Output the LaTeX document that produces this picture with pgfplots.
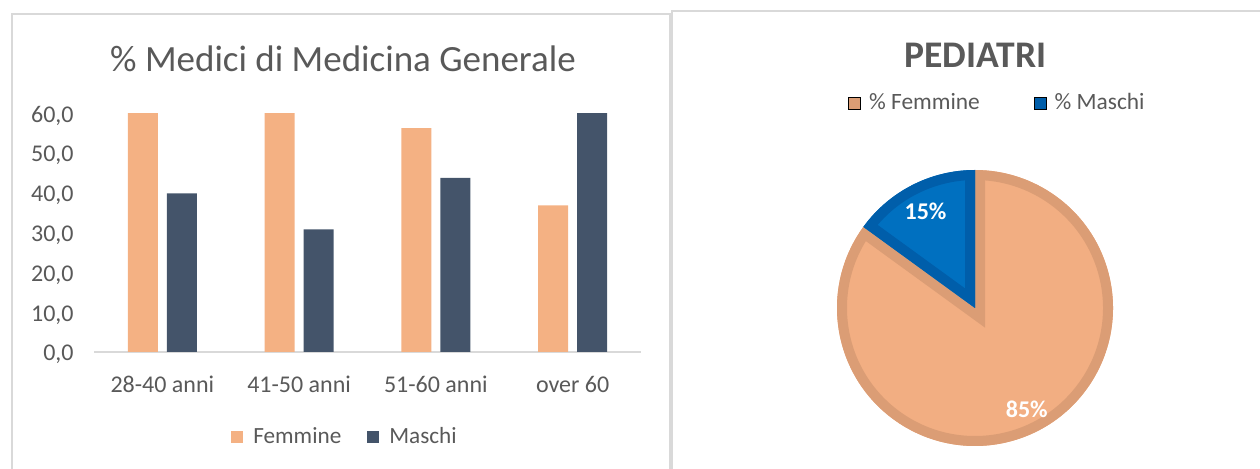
\documentclass[border=0pt]{standalone}
\usepackage{pgfplots}
\pgfplotsset{compat=1.18}
\usepackage{pgfplotstable}
\usetikzlibrary{calc}
\usepackage{fontspec}
\setmainfont{Carlito}

\definecolor{fem}{HTML}{F4B183}
\definecolor{mas}{HTML}{44546A}
\definecolor{pieF}{HTML}{F2AE82}
\definecolor{pieFd}{HTML}{DB9D75}
\definecolor{pieM}{HTML}{0070C0}
\definecolor{pieMd}{HTML}{005EAA}
\definecolor{txt}{HTML}{595959}
\definecolor{lgray}{HTML}{D9D9D9}

\pgfplotsset{sqlegend/.style={legend image code/.code={\fill[##1] (0pt,-3pt) rectangle (6pt,3pt);}}}

% medici di medicina generale, % per fascia d'eta
\pgfplotstableread{
x eta femmine maschi
0 28-40 60.0 39.8
1 41-50 60.0 30.8
2 51-60 56.2 43.7
3 over60 36.8 60.0
}\mmg

% pediatri
\pgfplotstableread{
genere valore
F 85
M 15
}\ped

\begin{document}
\begin{tikzpicture}
\useasboundingbox (0,0) rectangle (630pt,-234.5pt);
% cornici dei due riquadri
\draw[lgray, line width=1pt] (6pt,-250pt) -- (6pt,-7pt) -- (335pt,-7pt) -- (335pt,-250pt);
\draw[lgray, line width=1pt] (336pt,-250pt) -- (336pt,-5.5pt) -- (650pt,-5.5pt);

\node[anchor=base, text=txt, font=\fontsize{18.5}{22}\selectfont] at (171.5pt,-35.8pt) {\% Medici di Medicina Generale};

\begin{axis}[
    at={(47pt,-176pt)}, anchor=south west,
    scale only axis, width=273.5pt, height=119.5pt,
    ybar=4.5pt, bar width=15pt,
    xmin=-0.5, xmax=3.5, ymin=0, ymax=60,
    axis x line*=bottom, axis y line*=left,
    x axis line style={-, draw=lgray, line width=1pt},
    y axis line style={draw=none},
    major tick length=0pt,
    xtick={0,1,2,3},
    xticklabels={28-40 anni, 41-50 anni, 51-60 anni, over 60},
    ytick={0,10,20,30,40,50,60},
    yticklabel={\pgfmathprintnumber[fixed, fixed zerofill, precision=1, use comma]{\tick}},
    /pgf/number format/assume math mode=true,
    tick label style={text=txt, font=\fontsize{12}{14}\selectfont},
    xticklabel style={anchor=base, inner sep=0pt, yshift=-20.5pt},
    yticklabel style={anchor=base east, inner sep=0pt, xshift=-10pt, yshift=-4.5pt},
    legend columns=2,
    legend style={at={(0.4607,-0.356)}, anchor=center, draw=none, fill=none,
        font=\fontsize{11.6}{14}\selectfont, text=txt,
        /tikz/every odd column/.append style={column sep=3pt},
        /tikz/every even column/.append style={column sep=11pt}},
]
\addplot[fill=fem, draw=none, sqlegend] table[x=x, y=femmine] {\mmg};
\addplot[fill=mas, draw=none, sqlegend] table[x=x, y=maschi] {\mmg};
\legend{Femmine, Maschi}
\end{axis}

\node[anchor=base, text=txt, font=\fontsize{18.8}{22}\selectfont\bfseries] at (487.75pt,-34pt) {PEDIATRI};

\pgfplotstablegetelem{0}{valore}\of\ped \let\vF\pgfplotsretval
\pgfplotstablegetelem{1}{valore}\of\ped \let\vM\pgfplotsretval
\pgfmathsetmacro\aM{90+3.6*\vM}
\pgfmathsetmacro\aF{\aM+3.6*\vF}
\pgfmathsetmacro\mM{(90+\aM)/2}
\pgfmathsetmacro\mF{(\aM+\aF)/2}

\begin{axis}[
    at={(487.5pt,-154pt)}, anchor=center,
    scale only axis, width=138pt, height=138pt,
    xmin=-1, xmax=1, ymin=-1, ymax=1,
    hide axis, clip=false,
    legend columns=2,
    legend style={at={(0.585,1.243)}, anchor=center, draw=none, fill=none,
        font=\fontsize{11.7}{14}\selectfont, text=txt,
        /tikz/every odd column/.append style={column sep=2pt},
        /tikz/every even column/.append style={column sep=25pt}},
]
\addlegendimage{sqlegend, fill=pieFd}
\addlegendentry{\% Femmine}
\addlegendimage{sqlegend, fill=pieMd}
\addlegendentry{\% Maschi}
% fetta femmine
\fill[pieF] (axis cs:0,0) -- ++(\aM:69pt) arc[start angle=\aM, end angle=\aF, radius=69pt] -- cycle;
\begin{scope}
\clip (axis cs:0,0) -- ++(\aM:69pt) arc[start angle=\aM, end angle=\aF, radius=69pt] -- cycle;
\draw[pieFd, line width=10pt] (axis cs:0,0) -- ++(\aM:69pt) arc[start angle=\aM, end angle=\aF, radius=69pt] -- cycle;
\end{scope}
% fetta maschi
\fill[pieM] (axis cs:0,0) -- ++(90:69pt) arc[start angle=90, end angle=\aM, radius=69pt] -- cycle;
\begin{scope}
\clip (axis cs:0,0) -- ++(90:69pt) arc[start angle=90, end angle=\aM, radius=69pt] -- cycle;
\draw[pieMd, line width=10pt] (axis cs:0,0) -- ++(90:69pt) arc[start angle=90, end angle=\aM, radius=69pt] -- cycle;
\end{scope}
\node[white, font=\fontsize{12}{14}\selectfont\bfseries] at ($(axis cs:0,0)+(\mM:54.5pt)$) {\vM\%};
\node[white, font=\fontsize{12}{14}\selectfont\bfseries] at ($(axis cs:0,0)+(\mF:57pt)$) {\vF\%};
\end{axis}
\end{tikzpicture}
\end{document}
